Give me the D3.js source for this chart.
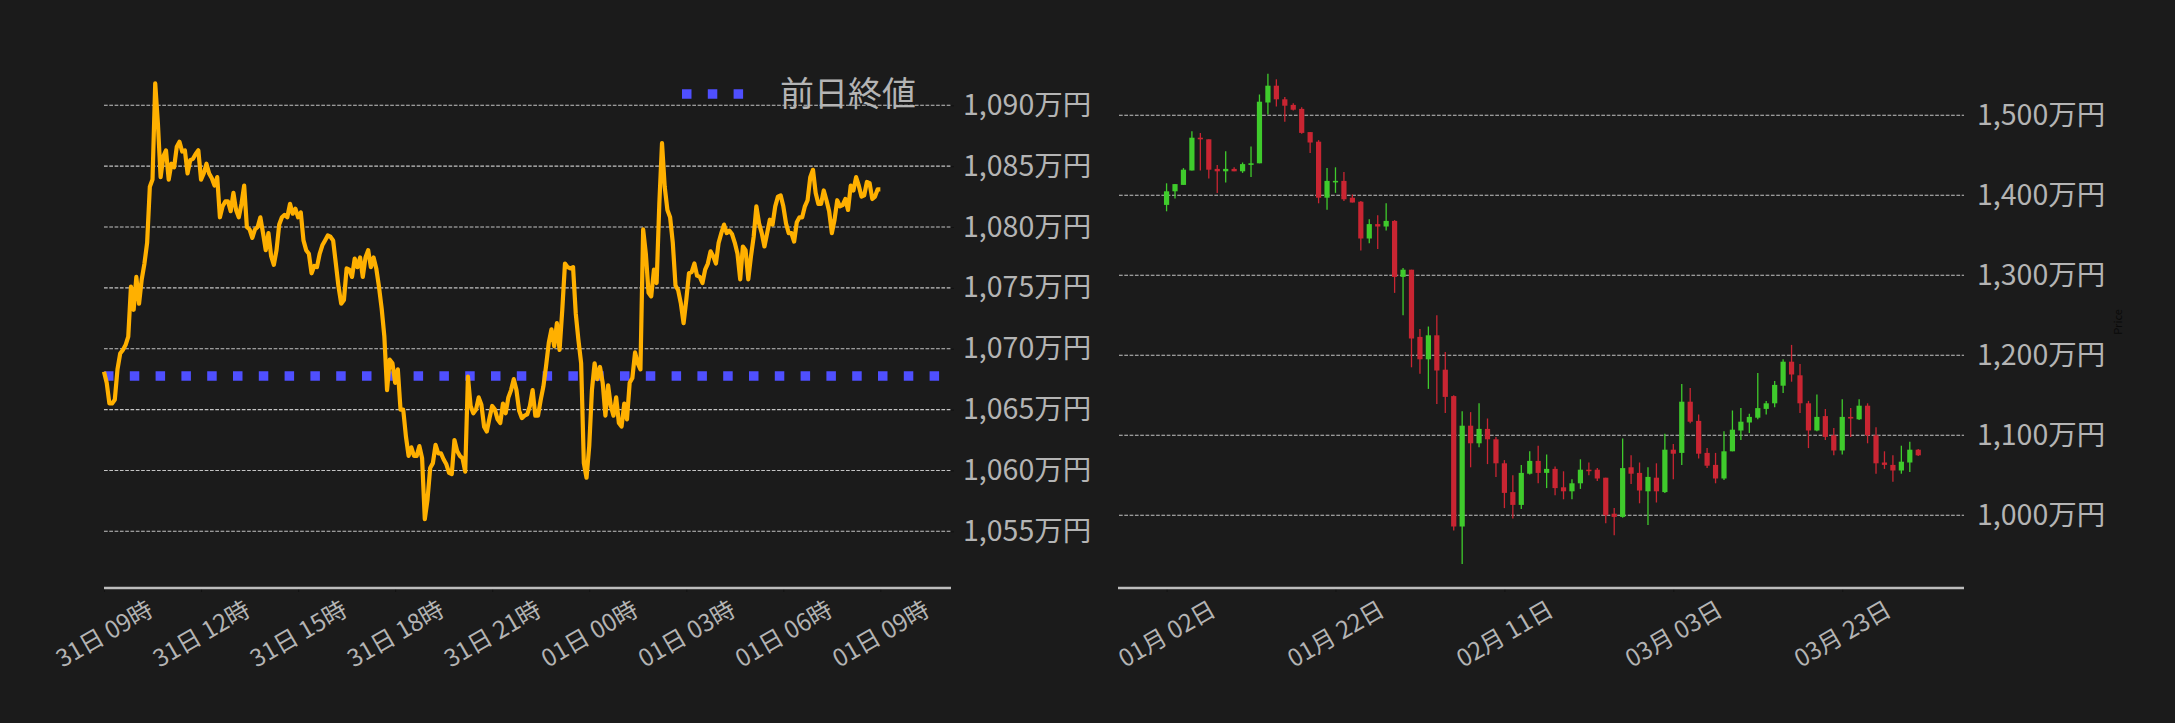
<html>
<head>
<meta charset="utf-8">
<script src="https://d3js.org/d3.v7.min.js"></script>
<style>
  body { margin: 0; background: #1b1b1b; }
  text { font-family: "Noto Sans CJK JP", "Noto Sans", sans-serif; }
</style>
</head>
<body>
<svg id="chart" width="2175" height="723"></svg>
<script>

// ---- left: intraday price (万円), one value every 5 minutes from 31日 09:00 ----
var lineStart = new Date(2025, 2, 31, 9, 0);
var linePrice = [
  1068.1, 1067.2, 1065.5, 1065.5, 1065.8, 1068.3, 1069.6, 1069.9, 1070.3, 1071.0,
  1075.1, 1073.2, 1075.9, 1073.7, 1075.7, 1077.0, 1078.7, 1083.3, 1083.9, 1091.8,
  1088.5, 1084.1, 1085.8, 1086.3, 1083.9, 1085.2, 1084.9, 1086.6, 1087.0, 1086.2,
  1086.3, 1084.4, 1085.5, 1085.6, 1086.0, 1086.3, 1083.9, 1084.4, 1085.2, 1084.4,
  1084.0, 1083.4, 1084.1, 1080.8, 1081.7, 1082.1, 1082.1, 1081.3, 1082.8, 1081.4,
  1080.8, 1081.9, 1083.4, 1080.0, 1079.8, 1079.1, 1079.8, 1080.0, 1080.8, 1079.5,
  1078.1, 1079.5, 1077.6, 1076.9, 1078.1, 1080.2, 1080.8, 1081.0, 1080.8, 1081.9,
  1081.1, 1081.5, 1080.8, 1081.2, 1078.9, 1078.1, 1077.8, 1076.2, 1076.8, 1076.7,
  1077.8, 1078.5, 1078.9, 1079.3, 1079.2, 1078.9, 1077.0, 1075.1, 1073.7, 1074.0,
  1076.6, 1076.5, 1075.9, 1077.4, 1076.7, 1077.5, 1075.9, 1077.5, 1078.1, 1076.7,
  1077.5, 1076.6, 1075.1, 1073.3, 1071.0, 1066.6, 1069.1, 1068.8, 1067.2, 1068.3,
  1065.0, 1065.0, 1062.8, 1061.2, 1061.9, 1061.2, 1061.2, 1062.0, 1061.0, 1056.0,
  1057.6, 1060.2, 1060.6, 1062.1, 1061.4, 1061.4, 1060.9, 1060.5, 1059.8, 1059.7,
  1062.5, 1061.6, 1061.2, 1061.0, 1059.9, 1067.7, 1065.3, 1064.7, 1065.0, 1066.0,
  1065.4, 1063.6, 1063.2, 1064.3, 1065.3, 1065.0, 1064.2, 1063.9, 1065.5, 1064.7,
  1066.0, 1066.6, 1067.5, 1066.6, 1064.9, 1064.3, 1064.5, 1064.6, 1065.3, 1066.6,
  1064.5, 1064.5, 1065.8, 1066.9, 1068.6, 1070.5, 1071.6, 1070.2, 1072.1, 1069.9,
  1073.2, 1077.0, 1076.7, 1076.6, 1076.7, 1072.9, 1070.7, 1068.8, 1060.6, 1059.4,
  1062.0, 1066.6, 1068.8, 1067.5, 1068.5, 1067.2, 1064.5, 1067.0, 1065.3, 1064.5,
  1066.0, 1063.9, 1063.6, 1065.5, 1064.2, 1067.2, 1067.6, 1069.7, 1068.8, 1068.3,
  1079.8, 1077.8, 1074.6, 1074.3, 1076.5, 1075.4, 1081.9, 1086.9, 1083.3, 1081.4,
  1080.8, 1078.7, 1075.2, 1074.8, 1073.7, 1072.1, 1074.0, 1076.2, 1076.3, 1077.0,
  1076.0, 1075.9, 1075.4, 1076.5, 1077.0, 1078.0, 1077.6, 1077.0, 1078.7, 1079.5,
  1080.2, 1079.5, 1079.7, 1079.4, 1078.7, 1077.8, 1075.7, 1078.4, 1078.1, 1075.7,
  1077.6, 1079.2, 1081.7, 1080.3, 1079.5, 1078.4, 1079.5, 1080.6, 1080.2, 1081.7,
  1082.5, 1082.6, 1081.7, 1080.3, 1079.5, 1079.5, 1078.8, 1080.4, 1080.8, 1080.8,
  1081.7, 1082.2, 1084.1, 1084.7, 1082.8, 1081.9, 1081.9, 1083.0, 1082.2, 1081.3,
  1079.5, 1080.6, 1082.2, 1081.7, 1081.8, 1082.3, 1081.4, 1083.4, 1083.0, 1084.1,
  1083.4, 1082.5, 1082.6, 1083.7, 1083.6, 1082.3, 1082.5, 1083.1, 1083.1
];
var prevClose = 1067.75;
var legendLabel = "前日終値";
var leftYTicks = [1055, 1060, 1065, 1070, 1075, 1080, 1085, 1090];
var leftXTicks = [0, 3, 6, 9, 12, 15, 18, 21, 24]; // hours after 31日 09時

// ---- right: daily candles (万円) from 01月02日 ----
var candleStart = new Date(2025, 0, 2);
var candleOpen = [
  1388, 1405, 1413, 1431, 1472, 1470, 1433, 1430, 1433, 1430,
  1438, 1440, 1516, 1537, 1520, 1513, 1508, 1479, 1467, 1397,
  1417, 1418, 1397, 1392, 1346, 1364, 1361, 1368, 1298, 1307,
  1223, 1195, 1225, 1182, 1149, 986, 1112, 1090, 1108, 1095,
  1065, 1029, 1013, 1052, 1068, 1053, 1058, 1035, 1030, 1040,
  1057, 1057, 1047, 1002, 998, 1060, 1053, 1030, 1047, 1029,
  1082, 1078, 1142, 1118, 1078, 1063, 1046, 1080, 1106, 1116,
  1122, 1133, 1140, 1162, 1192, 1175, 1140, 1106, 1124, 1100,
  1081, 1123, 1120, 1137, 1100, 1066, 1063, 1056, 1066, 1082
];
var candleHigh = [
  1415, 1414, 1434, 1480, 1478, 1470, 1438, 1455, 1435, 1441,
  1461, 1526, 1552, 1545, 1523, 1515, 1510, 1479, 1469, 1434,
  1435, 1429, 1401, 1393, 1370, 1375, 1390, 1369, 1309, 1307,
  1233, 1236, 1250, 1204, 1150, 1130, 1129, 1140, 1121, 1098,
  1069, 1050, 1063, 1080, 1087, 1076, 1061, 1055, 1045, 1070,
  1066, 1059, 1047, 1009, 1096, 1075, 1066, 1060, 1065, 1102,
  1089, 1164, 1159, 1126, 1084, 1078, 1105, 1131, 1134, 1127,
  1178, 1143, 1168, 1195, 1213, 1189, 1143, 1151, 1133, 1109,
  1145, 1134, 1145, 1140, 1110, 1080, 1075, 1087, 1092, 1083
];
var candleLow = [
  1380, 1396, 1413, 1431, 1431, 1421, 1403, 1416, 1430, 1428,
  1423, 1440, 1501, 1511, 1492, 1506, 1477, 1453, 1390, 1382,
  1403, 1393, 1391, 1331, 1340, 1333, 1356, 1278, 1250, 1185,
  1177, 1158, 1139, 1128, 981, 939, 1060, 1085, 1064, 1048,
  1009, 996, 1008, 1051, 1040, 1034, 1025, 1020, 1020, 1033,
  1050, 1043, 990, 975, 997, 1039, 1015, 988, 1016, 1028,
  1045, 1063, 1115, 1071, 1059, 1040, 1044, 1080, 1094, 1103,
  1120, 1126, 1135, 1153, 1167, 1128, 1084, 1105, 1094, 1075,
  1076, 1098, 1119, 1090, 1052, 1058, 1042, 1052, 1054, 1074
];
var candleClose = [
  1405, 1414, 1432, 1472, 1470, 1432, 1430, 1433, 1430, 1439,
  1440, 1517, 1537, 1520, 1512, 1507, 1478, 1466, 1397, 1418,
  1418, 1395, 1391, 1346, 1364, 1361, 1368, 1298, 1307, 1221,
  1195, 1225, 1181, 1148, 986, 1112, 1090, 1108, 1095, 1065,
  1028, 1013, 1053, 1068, 1053, 1058, 1034, 1030, 1040, 1057,
  1056, 1046, 1000, 998, 1059, 1052, 1031, 1048, 1030, 1082,
  1077, 1142, 1117, 1077, 1062, 1046, 1080, 1107, 1117, 1123,
  1134, 1140, 1163, 1192, 1176, 1140, 1106, 1123, 1098, 1081,
  1123, 1121, 1137, 1100, 1065, 1063, 1056, 1067, 1082, 1075
];
var rightYTicks = [1000, 1100, 1200, 1300, 1400, 1500];
var rightXTicks = [new Date(2025, 0, 2), new Date(2025, 0, 22), new Date(2025, 1, 11),
                   new Date(2025, 2, 3), new Date(2025, 2, 23)];

var svg = d3.select("#chart");
var labelColor = "#b4b4b4";
var gridColor = "#c4c4c4";
var yen = function(d) { return d3.format(",")(d) + "万円"; };

var lineTimes = linePrice.map(function(d, i) { return d3.timeMinute.offset(lineStart, 5 * i); });
var candleDates = candleOpen.map(function(d, i) { return d3.timeDay.offset(candleStart, i); });

// ================= left chart =================
var xL = d3.scaleTime()
  .domain([lineStart, d3.timeMinute.offset(lineStart, 1571)])
  .range([104, 951]);
var yL = d3.scaleLinear().domain([1055, 1090]).range([531.3, 105.3]);

// grid
svg.append("g").selectAll("line").data(leftYTicks).enter().append("line")
  .attr("x1", 104).attr("x2", 951)
  .attr("y1", function(d) { return yL(d); }).attr("y2", function(d) { return yL(d); })
  .style("stroke", gridColor).style("stroke-width", 1.1)
  .style("stroke-dasharray", "3.7,1.6");

// y labels on the right
var gyL = svg.append("g").attr("transform", "translate(951,0)")
  .call(d3.axisRight(yL).tickValues(leftYTicks).tickFormat(yen).tickSize(3).tickPadding(9));
gyL.select(".domain").remove();
gyL.selectAll("line").style("stroke", "#111");
gyL.selectAll("text").style("fill", labelColor).style("font-size", "28.5px");

// previous close dotted line
svg.append("line")
  .attr("x1", xL.range()[0]).attr("x2", xL.range()[1])
  .attr("y1", yL(prevClose)).attr("y2", yL(prevClose))
  .style("stroke", "#4f4fff").style("stroke-width", 9.5)
  .style("stroke-dasharray", "9.5,16.3");

// price line
svg.append("path").datum(linePrice)
  .attr("d", d3.line()
    .x(function(d, i) { return xL(lineTimes[i]); })
    .y(function(d) { return yL(d); }))
  .style("fill", "none").style("stroke", "#ffb000")
  .style("stroke-width", 4.2).style("stroke-linejoin", "round");

// legend
svg.append("line")
  .attr("x1", 682).attr("x2", 744).attr("y1", 94).attr("y2", 94)
  .style("stroke", "#4f4fff").style("stroke-width", 9.5)
  .style("stroke-dasharray", "9.5,16.3");
svg.append("text")
  .attr("x", 780).attr("y", 94).attr("dy", "0.36em")
  .style("fill", labelColor).style("font-size", "34px")
  .text(legendLabel);

// x axis
var gxL = svg.append("g").attr("transform", "translate(0,588)")
  .call(d3.axisBottom(xL)
    .tickValues(leftXTicks.map(function(h) { return d3.timeHour.offset(lineStart, h); }))
    .tickFormat(d3.timeFormat("%d日 %H時")).tickSize(4));
gxL.select(".domain").remove();
gxL.selectAll("line").style("stroke", "#111");
gxL.selectAll("text")
  .attr("y", 0).attr("dy", "0.35em")
  .attr("transform", "translate(0,46) rotate(-30)")
  .style("text-anchor", "middle")
  .style("fill", labelColor).style("font-size", "24px");
svg.append("line")
  .attr("x1", 104).attr("x2", 951).attr("y1", 588).attr("y2", 588)
  .style("stroke", "#bdbdbd").style("stroke-width", 2.5);

// ================= right chart =================
var xR = d3.scaleTime()
  .domain([d3.timeHour.offset(candleStart, -137.5), d3.timeHour.offset(candleStart, 2266)])
  .range([1118, 1964]);
var yR = d3.scaleLinear().domain([1000, 1500]).range([515.3, 115.3]);

svg.append("g").selectAll("line").data(rightYTicks).enter().append("line")
  .attr("x1", 1119).attr("x2", 1964)
  .attr("y1", function(d) { return yR(d); }).attr("y2", function(d) { return yR(d); })
  .style("stroke", gridColor).style("stroke-width", 1.1)
  .style("stroke-dasharray", "3.7,1.6");

var gyR = svg.append("g").attr("transform", "translate(1964,0)")
  .call(d3.axisRight(yR).tickValues(rightYTicks).tickFormat(yen).tickSize(0).tickPadding(13));
gyR.select(".domain").remove();
gyR.selectAll("text").style("fill", labelColor).style("font-size", "28.5px");

svg.append("text")
  .attr("transform", "translate(2118,322) rotate(-90)")
  .attr("dy", "0.35em")
  .style("text-anchor", "middle")
  .style("fill", "#0a0a0a").style("font-size", "11px")
  .text("Price");

// candles
var candles = svg.append("g").selectAll("g").data(candleOpen).enter().append("g");
candles.append("line")
  .attr("x1", function(d, i) { return xR(candleDates[i]); })
  .attr("x2", function(d, i) { return xR(candleDates[i]); })
  .attr("y1", function(d, i) { return yR(candleHigh[i]); })
  .attr("y2", function(d, i) { return yR(candleLow[i]); })
  .style("stroke", function(d, i) { return candleClose[i] >= d ? "#3fcb2c" : "#c92532"; })
  .style("stroke-width", 1.3);
candles.append("rect")
  .attr("x", function(d, i) { return xR(candleDates[i]) - 2.6; })
  .attr("width", 5.2)
  .attr("y", function(d, i) { return yR(Math.max(d, candleClose[i])); })
  .attr("height", function(d, i) { return Math.max(1.5, Math.abs(yR(d) - yR(candleClose[i]))); })
  .style("fill", function(d, i) { return candleClose[i] >= d ? "#3fcb2c" : "#c92532"; });

var gxR = svg.append("g").attr("transform", "translate(0,588)")
  .call(d3.axisBottom(xR).tickValues(rightXTicks)
    .tickFormat(d3.timeFormat("%m月 %d日")).tickSize(4));
gxR.select(".domain").remove();
gxR.selectAll("line").style("stroke", "#111");
gxR.selectAll("text")
  .attr("y", 0).attr("dy", "0.35em")
  .attr("transform", "translate(0,46) rotate(-30)")
  .style("text-anchor", "middle")
  .style("fill", labelColor).style("font-size", "24px");
svg.append("line")
  .attr("x1", 1118).attr("x2", 1964).attr("y1", 588).attr("y2", 588)
  .style("stroke", "#bdbdbd").style("stroke-width", 2.5);

</script>
</body>
</html>
